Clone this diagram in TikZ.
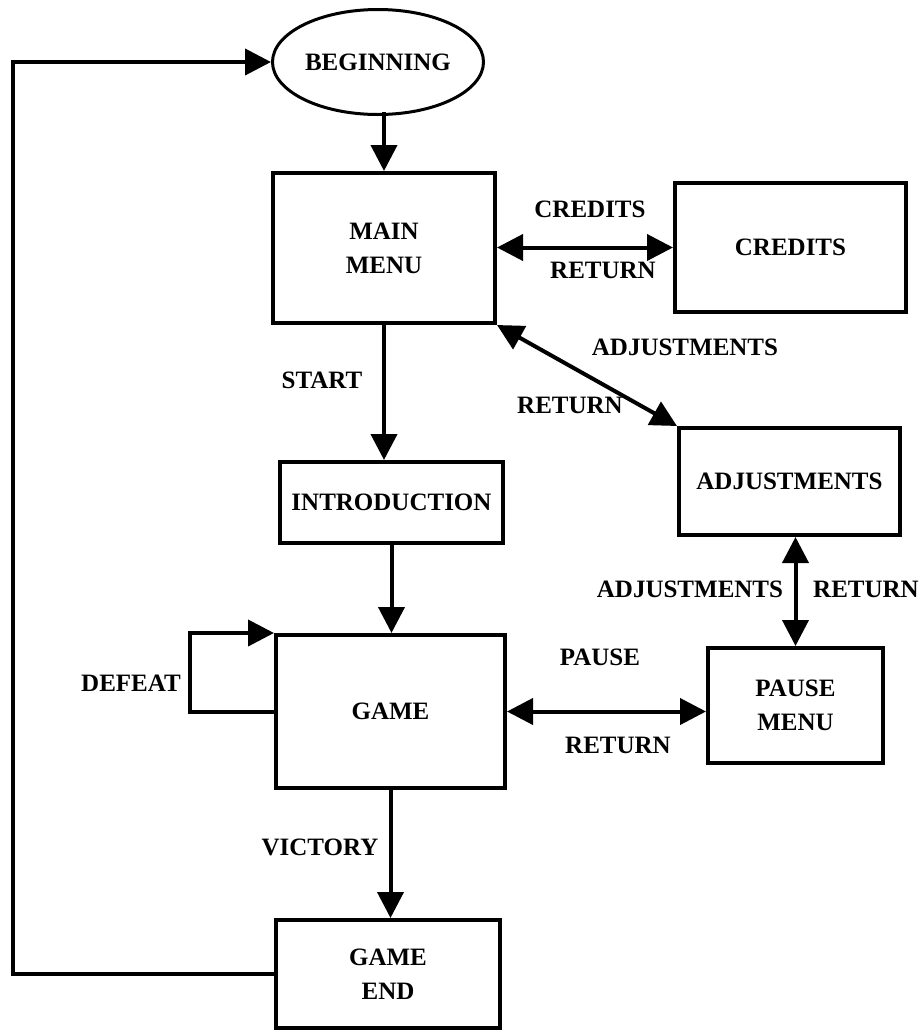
\documentclass[tikz,border=0pt]{standalone}
\usepackage{fontspec}
\setmainfont{Liberation Serif}
\usetikzlibrary{arrows.meta,shapes.geometric}
\begin{document}
\begin{tikzpicture}[x=1pt,y=-1pt,
  box/.style={draw,line width=4pt,rectangle,inner sep=0pt,align=center,
    font=\fontsize{25}{34}\selectfont\bfseries},
  oval/.style={draw,line width=3pt,ellipse,inner sep=0pt,align=center,
    font=\fontsize{25}{34}\selectfont\bfseries},
  lbl/.style={inner sep=0pt,font=\fontsize{25}{34}\selectfont\bfseries},
  conn/.style={line width=4pt,-{Triangle[length=26pt,width=26pt]}},
  biconn/.style={line width=4pt,{Triangle[length=26pt,width=26pt]}-{Triangle[length=26pt,width=26pt]}}]
\useasboundingbox (0,0) rectangle (923,1034);
\fill[white] (0,0) rectangle (923,1034);

\node[oval,minimum width=211pt,minimum height=105pt] (beg) at (378,62) {BEGINNING};
\node[box,minimum width=222pt,minimum height=150pt] (main) at (384,248) {MAIN\\MENU};
\node[box,minimum width=231pt,minimum height=129pt] (cred) at (790.5,247.5) {CREDITS};
\node[box,minimum width=221pt,minimum height=107pt] (adj) at (789.5,481.5) {ADJUSTMENTS};
\node[box,minimum width=223pt,minimum height=81pt] (intro) at (391.5,502.5) {INTRODUCTION};
\node[box,minimum width=229pt,minimum height=153pt] (game) at (390.5,711.5) {GAME};
\node[box,minimum width=175pt,minimum height=115pt] (pause) at (795.5,705.5) {PAUSE\\MENU};
\node[box,minimum width=224pt,minimum height=108pt] (end) at (388,974) {GAME\\END};

\coordinate (lc) at (13,0);

\draw[conn] ([yshift=4pt]beg.south -| main.north) -- (main.north);
\draw[biconn] (main.east |- cred.west) -- (cred.west);
\draw[biconn] (main.south east) -- (adj.north west);
\draw[conn] (main.south) -- (main.south |- intro.north);
\draw[conn] (intro.south) -- (intro.south |- game.north);
\draw[conn] (game.south) -- (game.south |- end.north);
\draw[biconn] (game.east) -- (game.east -| pause.west);
\draw[biconn] (pause.north) -- (pause.north |- adj.south);
\draw[conn] (game.west) -- ++(-84,0) |- (game.north west);
\draw[conn] (end.west) -- (end.west -| lc) |- (beg.west);

\node[lbl] (l1) at (590,209) {CREDITS};
\node[lbl] (l2) at (603,270) {RETURN};
\node[lbl] (l3) at (685,347) {ADJUSTMENTS};
\node[lbl] (l4) at (570,405) {RETURN};
\node[lbl] (l5) at (322,380) {START};
\node[lbl] (l6) at (690,589) {ADJUSTMENTS};
\node[lbl] (l7) at (866,589) {RETURN};
\node[lbl] (l8) at (600,657) {PAUSE};
\node[lbl] (l9) at (618,745) {RETURN};
\node[lbl] (l10) at (131,683) {DEFEAT};
\node[lbl] (l11) at (320,847) {VICTORY};
\end{tikzpicture}
\end{document}
